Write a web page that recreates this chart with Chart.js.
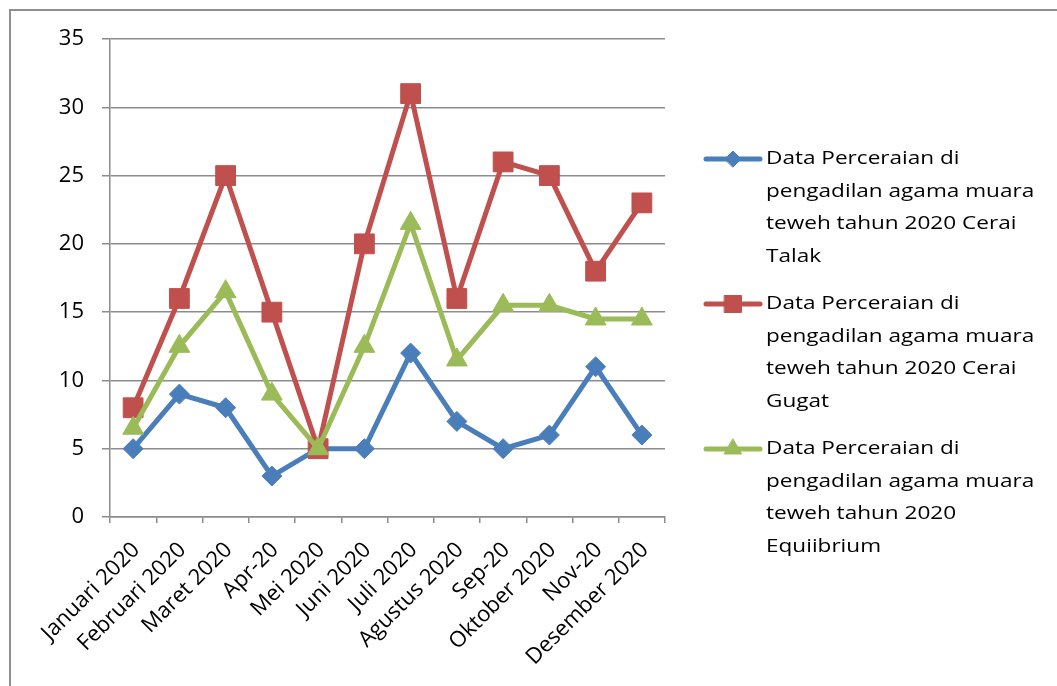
<!DOCTYPE html>
<html>
<head>
<meta charset="utf-8">
<script src="https://cdn.jsdelivr.net/npm/chart.js@4"></script>
<style>
  html, body { margin: 0; padding: 0; background: #fff; }
  #wrap { position: relative; width: 1057px; height: 686px; }
</style>
</head>
<body>
<div id="wrap"><canvas id="chart" width="1057" height="686"></canvas></div>
<script>
const months = ['Januari 2020', 'Februari 2020', 'Maret 2020', 'Apr-20', 'Mei 2020', 'Juni 2020',
  'Juli 2020', 'Agustus 2020', 'Sep-20', 'Oktober 2020', 'Nov-20', 'Desember 2020'];
const ceraiTalak = [5, 9, 8, 3, 5, 5, 12, 7, 5, 6, 11, 6];
const ceraiGugat = [8, 16, 25, 15, 5, 20, 31, 16, 26, 25, 18, 23];
const equilibrium = [6.5, 12.5, 16.5, 9, 5, 12.5, 21.5, 11.5, 15.5, 15.5, 14.5, 14.5];
const seriesNames = [
  'Data Perceraian di pengadilan agama muara teweh tahun 2020 Cerai Talak',
  'Data Perceraian di pengadilan agama muara teweh tahun 2020 Cerai Gugat',
  'Data Perceraian di pengadilan agama muara teweh tahun 2020 Equiibrium'
];
const yMin = 0, yMax = 35, yStep = 5;

const FONT = '"Open Sans", "Noto Sans", sans-serif';
const GRID = '#8c8c8c';

// gray frame on the left and top, like the cropped chart border
const frame = {
  id: 'frame',
  beforeDraw(chart) {
    const ctx = chart.ctx;
    ctx.save();
    ctx.strokeStyle = '#8f8f8f';
    ctx.lineWidth = 2;
    ctx.beginPath();
    ctx.moveTo(10, 686);
    ctx.lineTo(10, 10);
    ctx.lineTo(1057, 10);
    ctx.stroke();
    ctx.restore();
  }
};

// legend on the right with wrapped labels
const sideLegend = {
  id: 'sideLegend',
  afterDraw(chart) {
    const ctx = chart.ctx;
    const sx = 1.22, lineH = 32.5, maxW = 290;
    ctx.save();
    ctx.font = '18.5px ' + FONT;
    ctx.textBaseline = 'middle';
    let y = 159;
    chart.data.datasets.forEach(ds => {
      // wrap label
      const words = ds.label.split(' ');
      const lines = [];
      let cur = '';
      words.forEach(w => {
        const t = cur ? cur + ' ' + w : w;
        if (ctx.measureText(t).width * sx > maxW && cur) { lines.push(cur); cur = w; }
        else cur = t;
      });
      lines.push(cur);

      ctx.strokeStyle = ds.borderColor;
      ctx.lineWidth = 5;
      ctx.lineCap = 'round';
      ctx.beginPath();
      ctx.moveTo(706, y);
      ctx.lineTo(760, y);
      ctx.stroke();
      ctx.fillStyle = ds.pointBackgroundColor;
      ctx.lineWidth = 1;
      Chart.helpers.drawPoint(ctx, {
        pointStyle: ds.pointStyle, rotation: 0, radius: ds.legendRadius, borderWidth: 1
      }, 733, y);

      ctx.fillStyle = '#000';
      lines.forEach((ln, i) => {
        ctx.save();
        ctx.translate(766, y + i * lineH);
        ctx.scale(sx, 1);
        ctx.fillText(ln, 0, 0);
        ctx.restore();
      });
      y += lines.length * lineH + 15;
    });
    ctx.restore();
  }
};

function series(label, data, color, style, radius, legendRadius, order) {
  return {
    label, data,
    borderColor: color,
    backgroundColor: color,
    pointBackgroundColor: color,
    pointBorderColor: color,
    pointBorderWidth: 1,
    pointStyle: style,
    pointRadius: radius,
    pointHoverRadius: radius,
    legendRadius,
    borderWidth: 5,
    tension: 0,
    clip: false,
    order
  };
}

new Chart(document.getElementById('chart'), {
  type: 'line',
  data: {
    labels: months,
    datasets: [
      series(seriesNames[0], ceraiTalak, '#4a7ebb', 'rectRot', 10, 8, 3),
      series(seriesNames[1], ceraiGugat, '#c0504d', 'rect', 14, 12, 2),
      series(seriesNames[2], equilibrium, '#9bbb59', 'triangle', 12, 10, 1)
    ]
  },
  options: {
    responsive: false,
    animation: false,
    devicePixelRatio: 1,
    layout: { padding: { left: 0, top: 39, right: 392, bottom: 0 } },
    plugins: {
      legend: { display: false },
      tooltip: { enabled: false }
    },
    scales: {
      x: {
        offset: true,
        grid: { offset: true, drawOnChartArea: false, drawTicks: true, tickLength: 6, color: GRID, lineWidth: 1.5 },
        border: { color: GRID, width: 1.5 },
        ticks: {
          color: '#000',
          font: { family: FONT, size: 22 },
          minRotation: 45,
          maxRotation: 45,
          padding: 14,
          labelOffset: 3,
          autoSkip: false
        },
        afterFit: s => { s.height = 169; }
      },
      y: {
        min: yMin,
        max: yMax,
        grid: { color: GRID, lineWidth: 1.5, tickLength: 8 },
        border: { color: GRID, width: 1.5 },
        ticks: {
          stepSize: yStep,
          color: '#000',
          font: { family: FONT, size: 22 },
          padding: 18
        },
        afterFit: s => { s.width = 110; }
      }
    }
  },
  plugins: [frame, sideLegend]
});
</script>
</body>
</html>
